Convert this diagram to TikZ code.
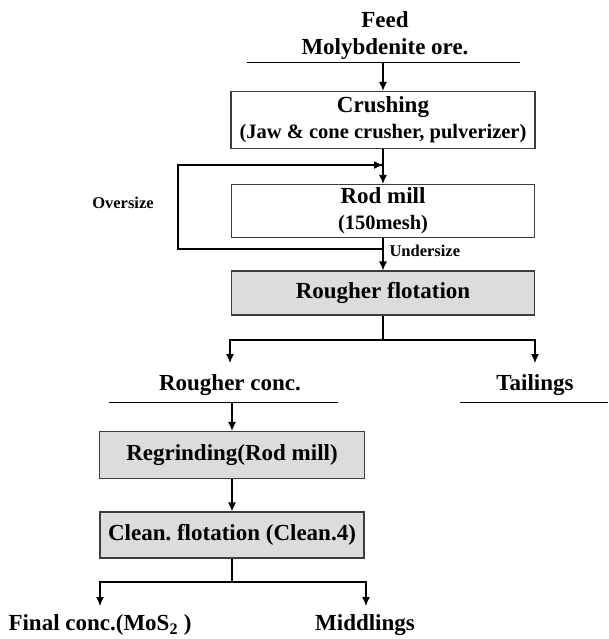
\documentclass[tikz,border=0pt]{standalone}
\usepackage{fontspec}
\setmainfont{Liberation Serif}
\usetikzlibrary{arrows.meta}
\definecolor{boxgray}{RGB}{220,220,220}
\definecolor{edgegray}{RGB}{60,60,60}
\frenchspacing

\begin{document}
\begin{tikzpicture}[x=1pt, y=-1pt,
    unit/.style={draw=edgegray, line width=1.2pt, inner sep=0pt, align=center,
        font=\bfseries\fontsize{23}{26}\selectfont},
    stream/.style={align=center, font=\bfseries\fontsize{23}{27}\selectfont},
    note/.style={font=\bfseries\fontsize{16.5}{18}\selectfont},
    flow/.style={-{Latex[length=9pt,width=8pt]}, line width=1.2pt},
    pipe/.style={line width=1.2pt},
    rule/.style={line width=1pt}]
    \useasboundingbox (0,0) rectangle (608,639);

    % Feed
    \node[stream] (feed) at (385,36) {Feed\\Molybdenite ore.};
    \coordinate (feedL) at (247,63);
    \coordinate (feedR) at (520,63);
    \coordinate (feedout) at (383,63);
    \draw[rule] (feedL) -- (feedR);

    % Crushing and rod mill
    \node[unit, minimum width=304, minimum height=57] (crush) at (383,120)
        {Crushing\\{\fontsize{20.5}{22}\selectfont(Jaw \& cone crusher, pulverizer)}};
    \node[unit, minimum width=303, minimum height=53] (rod) at (383,211)
        {Rod mill\\{\fontsize{20.5}{22}\selectfont(150mesh)}};
    \node[unit, fill=boxgray, minimum width=303, minimum height=44] (rough) at (383,293)
        {Rougher flotation};

    \draw[flow] (feedout) -- (crush);
    \draw[flow] (crush) -- (rod);
    \draw[flow] (rod) -- (rough);

    % Oversize loop
    \coordinate (split) at (383,249);
    \coordinate (back) at (383,165);
    \draw[pipe] (split) -| (178,165) -- (back);
    \draw[flow] (300,165) -- (back);
    \node[note] (over) at (123,203) {Oversize};
    \node[note, anchor=west] (under) at (386,251) {Undersize};

    % Rougher products
    \coordinate (rjoin) at (383,340);
    \coordinate (rconcin) at (230,363);
    \coordinate (tailin) at (535,363);
    \draw[pipe] (rough) -- (rjoin);
    \draw[flow] (rjoin) -| (rconcin);
    \draw[flow] (rjoin) -| (tailin);
    \node[stream] (rconc) at (230,385) {Rougher conc.};
    \node[stream] (tail) at (535,385) {Tailings};
    \coordinate (rconcL) at (109,402);
    \coordinate (rconcR) at (338,402);
    \coordinate (tailL) at (460,402);
    \coordinate (tailR) at (608,402);
    \draw[rule] (rconcL) -- (rconcR);
    \draw[rule] (tailL) -- (tailR);

    % Regrinding and cleaning
    \node[unit, fill=boxgray, minimum width=265, minimum height=47] (regrind) at (232,455)
        {Regrinding(Rod mill)};
    \node[unit, fill=boxgray, minimum width=264, minimum height=46] (clean) at (232,535)
        {Clean. flotation (Clean.4)};
    \coordinate (rconcout) at (232,402);
    \draw[flow] (rconcout) -- (regrind);
    \draw[flow] (regrind) -- (clean);

    % Final products
    \coordinate (cjoin) at (232,582);
    \coordinate (finalin) at (100,606);
    \coordinate (midin) at (366,606);
    \draw[pipe] (clean) -- (cjoin);
    \draw[flow] (cjoin) -| (finalin);
    \draw[flow] (cjoin) -| (midin);
    \node[stream] (final) at (100,625) {Final conc.(MoS\textsubscript{2} )};
    \node[stream] (mid) at (365,625) {Middlings};
\end{tikzpicture}
\end{document}
